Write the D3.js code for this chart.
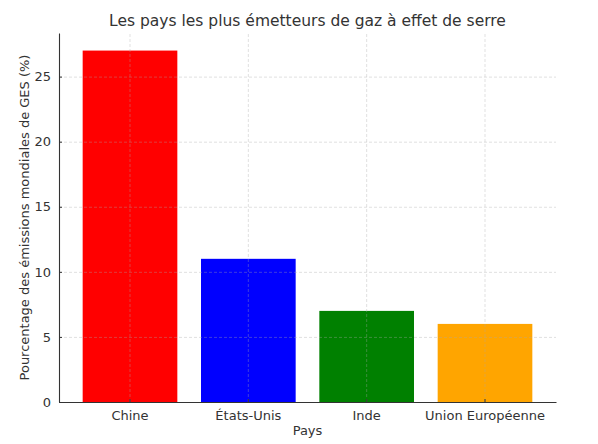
<!DOCTYPE html>
<html>
<head>
<meta charset="utf-8">
<script src="https://cdn.jsdelivr.net/npm/d3@7"></script>
<style>
  body { margin: 0; background: #fff; }
  svg { font-family: "DejaVu Sans", sans-serif; }
  .grid line { stroke: #a8a8a8; stroke-opacity: 0.45; stroke-dasharray: 3,2; stroke-width: 0.8; }
  .grid .domain { display: none; }
</style>
</head>
<body>
<svg id="chart"></svg>
<script>
const countries = ['Chine', 'États-Unis', 'Inde', 'Union Européenne'];
const shares = [27, 11, 7, 6];
const barColors = ['#ff0000', '#0000ff', '#008000', '#ffa500'];
const yTicks = [0, 5, 10, 15, 20, 25];

const width = 598, height = 444;
const margin = { top: 33, right: 42, bottom: 42, left: 59 };

const svg = d3.select('#chart')
  .attr('width', width)
  .attr('height', height);

// bar width 0.8 of a step, 0.6 step from edge to first/last bar centre
const x = d3.scaleBand()
  .domain(countries)
  .range([margin.left, width - margin.right])
  .paddingInner(0.2)
  .paddingOuter(0.2);

const y = d3.scaleLinear()
  .domain([0, d3.max(shares) * 1.05])
  .range([height - margin.bottom, margin.top]);

// bars
svg.selectAll('rect.bar')
  .data(shares)
  .enter()
  .append('rect')
  .attr('class', 'bar')
  .attr('x', (d, i) => x(countries[i]))
  .attr('y', d => y(d))
  .attr('width', x.bandwidth())
  .attr('height', d => y(0) - y(d))
  .attr('fill', (d, i) => barColors[i]);

// grid on top of bars
svg.append('g')
  .attr('class', 'grid')
  .attr('transform', `translate(${margin.left},0)`)
  .call(d3.axisLeft(y).tickValues(yTicks.slice(1)).tickSize(-(width - margin.left - margin.right)).tickFormat(''));

svg.append('g')
  .attr('class', 'grid')
  .attr('transform', `translate(0,${height - margin.bottom})`)
  .call(d3.axisBottom(x).tickSize(-(height - margin.top - margin.bottom)).tickFormat(''));

// axes
const yAxis = svg.append('g')
  .attr('transform', `translate(${margin.left},0)`)
  .call(d3.axisLeft(y).tickValues(yTicks).tickSizeInner(-3).tickSizeOuter(0).tickPadding(8));

const xAxis = svg.append('g')
  .attr('transform', `translate(0,${height - margin.bottom})`)
  .call(d3.axisBottom(x).tickSizeInner(-3).tickSizeOuter(0).tickPadding(7));

[yAxis, xAxis].forEach(g => {
  g.select('.domain').attr('stroke', '#333').attr('stroke-width', 1.1);
  g.selectAll('.tick line').attr('stroke', '#333');
  g.selectAll('.tick text')
    .attr('fill', '#333')
    .style('font-size', '13px')
    .style('font-family', 'DejaVu Sans, sans-serif');
});
xAxis.selectAll('.tick text').attr('dy', '0.85em');

// title
svg.append('text')
  .attr('x', (margin.left + width - margin.right) / 2)
  .attr('y', 26)
  .attr('text-anchor', 'middle')
  .style('font-size', '15.5px')
  .attr('fill', '#333')
  .text('Les pays les plus émetteurs de gaz à effet de serre');

// axis labels
svg.append('text')
  .attr('x', (margin.left + width - margin.right) / 2)
  .attr('y', 435)
  .attr('text-anchor', 'middle')
  .style('font-size', '13px')
  .attr('fill', '#333')
  .text('Pays');

svg.append('text')
  .attr('transform', `translate(29,${(margin.top + height - margin.bottom) / 2}) rotate(-90)`)
  .attr('text-anchor', 'middle')
  .style('font-size', '13px')
  .attr('fill', '#333')
  .text('Pourcentage des émissions mondiales de GES (%)');
</script>
</body>
</html>
